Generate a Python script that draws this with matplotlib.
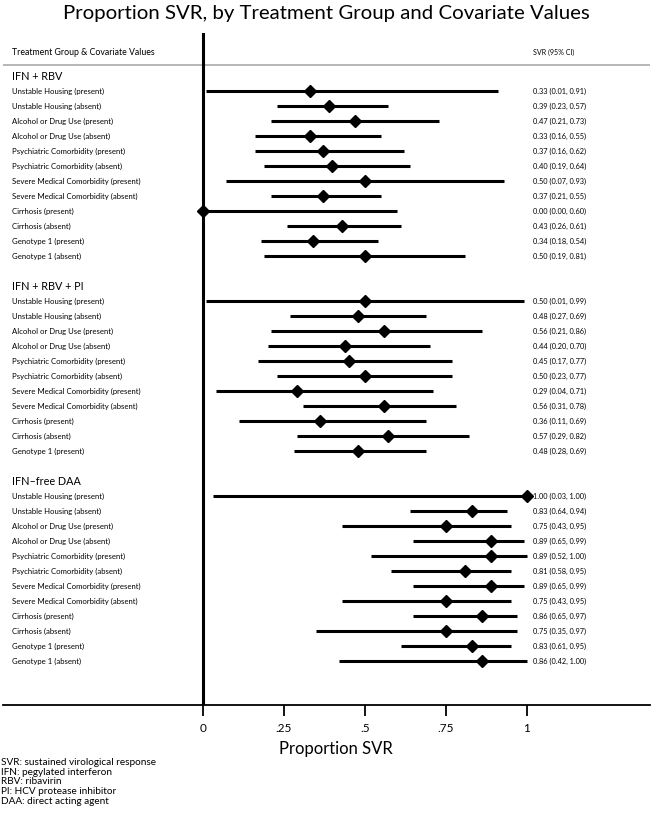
import matplotlib
matplotlib.use("Agg")
import matplotlib.pyplot as plt

plt.rcParams['font.family'] = ['Lato', 'DejaVu Sans']

groups = ["IFN + RBV", "IFN + RBV + PI", "IFN\u2013free DAA"]

covariates = [
    "Unstable Housing (present)",
    "Unstable Housing (absent)",
    "Alcohol or Drug Use (present)",
    "Alcohol or Drug Use (absent)",
    "Psychiatric Comorbidity (present)",
    "Psychiatric Comorbidity (absent)",
    "Severe Medical Comorbidity (present)",
    "Severe Medical Comorbidity (absent)",
    "Cirrhosis (present)",
    "Cirrhosis (absent)",
    "Genotype 1 (present)",
    "Genotype 1 (absent)",
]

# IFN + RBV
est1 = [0.33, 0.39, 0.47, 0.33, 0.37, 0.40, 0.50, 0.37, 0.00, 0.43, 0.34, 0.50]
lo1 = [0.01, 0.23, 0.21, 0.16, 0.16, 0.19, 0.07, 0.21, 0.00, 0.26, 0.18, 0.19]
hi1 = [0.91, 0.57, 0.73, 0.55, 0.62, 0.64, 0.93, 0.55, 0.60, 0.61, 0.54, 0.81]

# IFN + RBV + PI (no Genotype 1 absent row)
est2 = [0.50, 0.48, 0.56, 0.44, 0.45, 0.50, 0.29, 0.56, 0.36, 0.57, 0.48]
lo2 = [0.01, 0.27, 0.21, 0.20, 0.17, 0.23, 0.04, 0.31, 0.11, 0.29, 0.28]
hi2 = [0.99, 0.69, 0.86, 0.70, 0.77, 0.77, 0.71, 0.78, 0.69, 0.82, 0.69]

# IFN-free DAA
est3 = [1.00, 0.83, 0.75, 0.89, 0.89, 0.81, 0.89, 0.75, 0.86, 0.75, 0.83, 0.86]
lo3 = [0.03, 0.64, 0.43, 0.65, 0.52, 0.58, 0.65, 0.43, 0.65, 0.35, 0.61, 0.42]
hi3 = [1.00, 0.94, 0.95, 0.99, 1.00, 0.95, 0.99, 0.95, 0.97, 0.97, 0.95, 1.00]

xticks = [0, 0.25, 0.5, 0.75, 1]
xticklabels = ["0", ".25", ".5", ".75", "1"]

footnotes = [
    "SVR: sustained virological response",
    "IFN: pegylated interferon",
    "RBV: ribavirin",
    "PI: HCV protease inhibitor",
    "DAA: direct acting agent",
]

series = [(est1, lo1, hi1), (est2, lo2, hi2), (est3, lo3, hi3)]

fig = plt.figure(figsize=(6.52, 8.17), dpi=100)
ax = fig.add_axes([3 / 652, 1 - 705 / 817, 647 / 652, (705 - 33) / 817])

x0, x1 = -0.617, 1.38
label_x = -0.5895
ci_x = 1.0185

row = 0
for g, (est, lo, hi) in zip(groups, series):
    ax.text(label_x, row, g, fontsize=7.8, va='center', ha='left')
    row += 1
    for i in range(len(est)):
        ax.plot([lo[i], hi[i]], [row, row], color='black', lw=2.2,
                solid_capstyle='butt', zorder=3)
        ax.plot(est[i], row, marker='D', color='black', ms=6.3, zorder=4)
        ax.text(label_x, row, covariates[i], fontsize=5.6, va='center', ha='left')
        ax.text(ci_x, row, "%.2f (%.2f, %.2f)" % (est[i], lo[i], hi[i]),
                fontsize=5.3, va='center', ha='left')
        row += 1
    row += 1

# header
ax.text(label_x, -1.6, "Treatment Group & Covariate Values", fontsize=6.3, va='center', ha='left')
ax.text(ci_x, -1.6, "SVR (95% CI)", fontsize=5.1, va='center', ha='left')
ax.axhline(-0.73, color='#aaaaaa', lw=1.2, zorder=1)

ax.axvline(0, color='black', lw=2.2, zorder=2)

ax.set_xlim(x0, x1)
ax.set_ylim(41.93, -2.87)
ax.set_yticks([])
for s in ['left', 'right', 'top']:
    ax.spines[s].set_visible(False)
ax.spines['bottom'].set_linewidth(1.3)
ax.set_xticks(xticks)
ax.set_xticklabels(xticklabels, fontsize=8.5)
ax.tick_params(axis='x', direction='out', length=8, width=1.3, pad=5)
ax.set_xlabel("Proportion SVR", fontsize=12)
ax.xaxis.set_label_coords((336 - 3) / 647, -36 / 672)

fig.text(0.5, 1 - 13 / 817, "Proportion SVR, by Treatment Group and Covariate Values",
         fontsize=14.7, ha='center', va='center')

fig.text(1 / 652, 1 - 758 / 817, "\n".join(footnotes), fontsize=7.2,
         ha='left', va='top', linespacing=1.1)

fig.savefig("out.png", dpi=100)
